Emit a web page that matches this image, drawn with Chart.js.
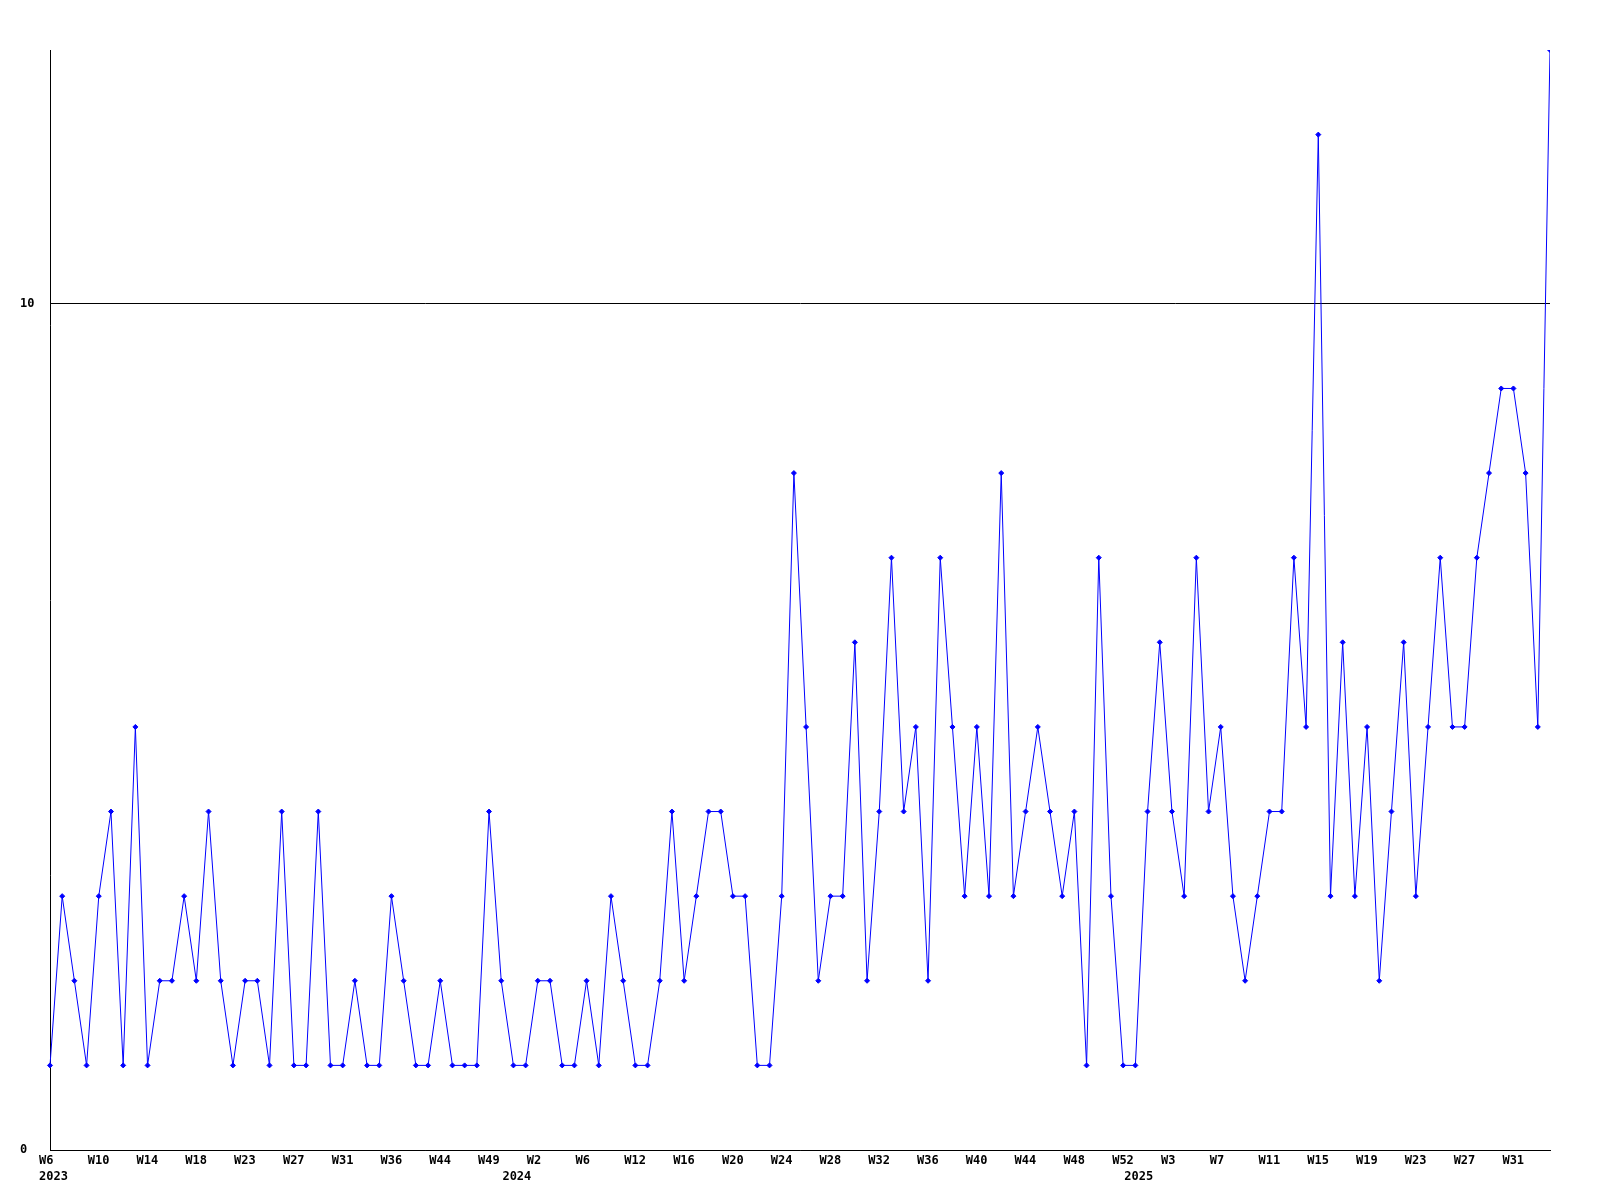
<!DOCTYPE html>
<html>
<head>
<meta charset="utf-8">
<script src="https://cdn.jsdelivr.net/npm/chart.js@4"></script>
<style>
  html, body { margin: 0; padding: 0; background: #ffffff; }
  canvas { display: block; }
</style>
</head>
<body>
<canvas id="c" width="1600" height="1200"></canvas>
<script>
// Weekly categories (year + week label)
const categories = [
  '2023 W6','2023 W7','2023 W8','2023 W9','2023 W10','2023 W11','2023 W12','2023 W13','2023 W14','2023 W15',
  '2023 W16','2023 W17','2023 W18','2023 W19','2023 W20','2023 W22','2023 W23','2023 W24','2023 W25','2023 W26',
  '2023 W27','2023 W28','2023 W29','2023 W30','2023 W31','2023 W32','2023 W33','2023 W35','2023 W36','2023 W37',
  '2023 W39','2023 W41','2023 W44','2023 W45','2023 W46','2023 W48','2023 W49','2023 W51',
  '2024 W0','2024 W1','2024 W2','2024 W3','2024 W4','2024 W5','2024 W6','2024 W8','2024 W9','2024 W11',
  '2024 W12','2024 W13','2024 W14','2024 W15','2024 W16','2024 W17','2024 W18','2024 W19','2024 W20','2024 W21',
  '2024 W22','2024 W23','2024 W24','2024 W25','2024 W26','2024 W27','2024 W28','2024 W29','2024 W30','2024 W31',
  '2024 W32','2024 W33','2024 W34','2024 W35','2024 W36','2024 W37','2024 W38','2024 W39','2024 W40','2024 W41',
  '2024 W42','2024 W43','2024 W44','2024 W45','2024 W46','2024 W47','2024 W48','2024 W49','2024 W50','2024 W51',
  '2024 W52',
  '2025 W0','2025 W1','2025 W2','2025 W3','2025 W4','2025 W5','2025 W6','2025 W7','2025 W8','2025 W9',
  '2025 W10','2025 W11','2025 W12','2025 W13','2025 W14','2025 W15','2025 W16','2025 W17','2025 W18','2025 W19',
  '2025 W20','2025 W21','2025 W22','2025 W23','2025 W24','2025 W25','2025 W26','2025 W27','2025 W28','2025 W29',
  '2025 W30','2025 W31','2025 W32','2025 W33','2025 W34'
];

// Series values (one per week)
const counts = [
  1, 3, 2, 1, 3, 4, 1, 5, 1, 2,
  2, 3, 2, 4, 2, 1, 2, 2, 1, 4,
  1, 1, 4, 1, 1, 2, 1, 1, 3, 2,
  1, 1, 2, 1, 1, 1, 4, 2, 1, 1,
  2, 2, 1, 1, 2, 1, 3, 2, 1, 1,
  2, 4, 2, 3, 4, 4, 3, 3, 1, 1,
  3, 8, 5, 2, 3, 3, 6, 2, 4, 7,
  4, 5, 2, 7, 5, 3, 5, 3, 8, 3,
  4, 5, 4, 3, 4, 1, 7, 3, 1, 1,
  4, 6, 4, 3, 7, 4, 5, 3, 2, 3,
  4, 4, 7, 5, 12, 3, 6, 3, 5, 2,
  4, 6, 3, 5, 7, 5, 5, 7, 8, 9,
  9, 8, 5, 13
];

// Y axis tick values
const yTicks = [0, 10];
const yMin = 0;
const yMax = 13;
const labelEvery = 4;

const weekOf = i => categories[i].split(' ')[1];
const yearOf = i => categories[i].split(' ')[0];

const tickFont = { family: '"DejaVu Sans Mono", monospace', size: 12, weight: 'bold' };

new Chart(document.getElementById('c'), {
  type: 'line',
  data: {
    labels: categories,
    datasets: [{
      data: counts,
      borderColor: '#0000ff',
      borderWidth: 1,
      backgroundColor: '#0000ff',
      pointStyle: 'rectRot',
      pointRadius: 2.5,
      pointBackgroundColor: '#0000ff',
      pointBorderColor: '#0000ff',
      pointBorderWidth: 1,
      tension: 0,
      fill: false,
      clip: { left: 5, top: 0, right: 0, bottom: 5 }
    }]
  },
  options: {
    responsive: false,
    animation: false,
    devicePixelRatio: 1,
    layout: { padding: { left: 20, top: 50, right: 50, bottom: 14 } },
    plugins: { legend: { display: false }, tooltip: { enabled: false } },
    scales: {
      x: {
        type: 'category',
        position: 'bottom',
        weight: 0,
        offset: false,
        grid: { display: false, drawTicks: false },
        border: { display: true, color: '#000000', width: 1 },
        ticks: {
          autoSkip: false, maxRotation: 0, minRotation: 0,
          align: 'start', labelOffset: -11, padding: 4,
          color: '#000000', font: tickFont,
          callback: (v, i) => (i % labelEvery === 0 ? weekOf(i) : null)
        },
        afterFit: s => { s.height = 20; }
      },
      x2: {
        type: 'category',
        labels: categories,
        position: 'bottom',
        weight: 1,
        offset: false,
        grid: { display: false, drawTicks: false },
        border: { display: false },
        ticks: {
          autoSkip: false, maxRotation: 0, minRotation: 0,
          align: 'start', labelOffset: -11, padding: 0,
          color: '#000000', font: tickFont,
          callback: (v, i) => (i === 0 || yearOf(i) !== yearOf(i - 1) ? yearOf(i) : null)
        },
        afterFit: s => { s.height = 16; }
      },
      y: {
        min: yMin,
        max: yMax,
        afterBuildTicks: s => { s.ticks = yTicks.map(v => ({ value: v })); },
        grid: { display: true, color: '#000000', lineWidth: 1, drawTicks: false },
        border: { display: true, color: '#000000', width: 1 },
        ticks: {
          crossAlign: 'far', padding: 4,
          color: '#000000', font: tickFont
        },
        afterFit: s => { s.width = 30; }
      }
    }
  }
});
</script>
</body>
</html>
